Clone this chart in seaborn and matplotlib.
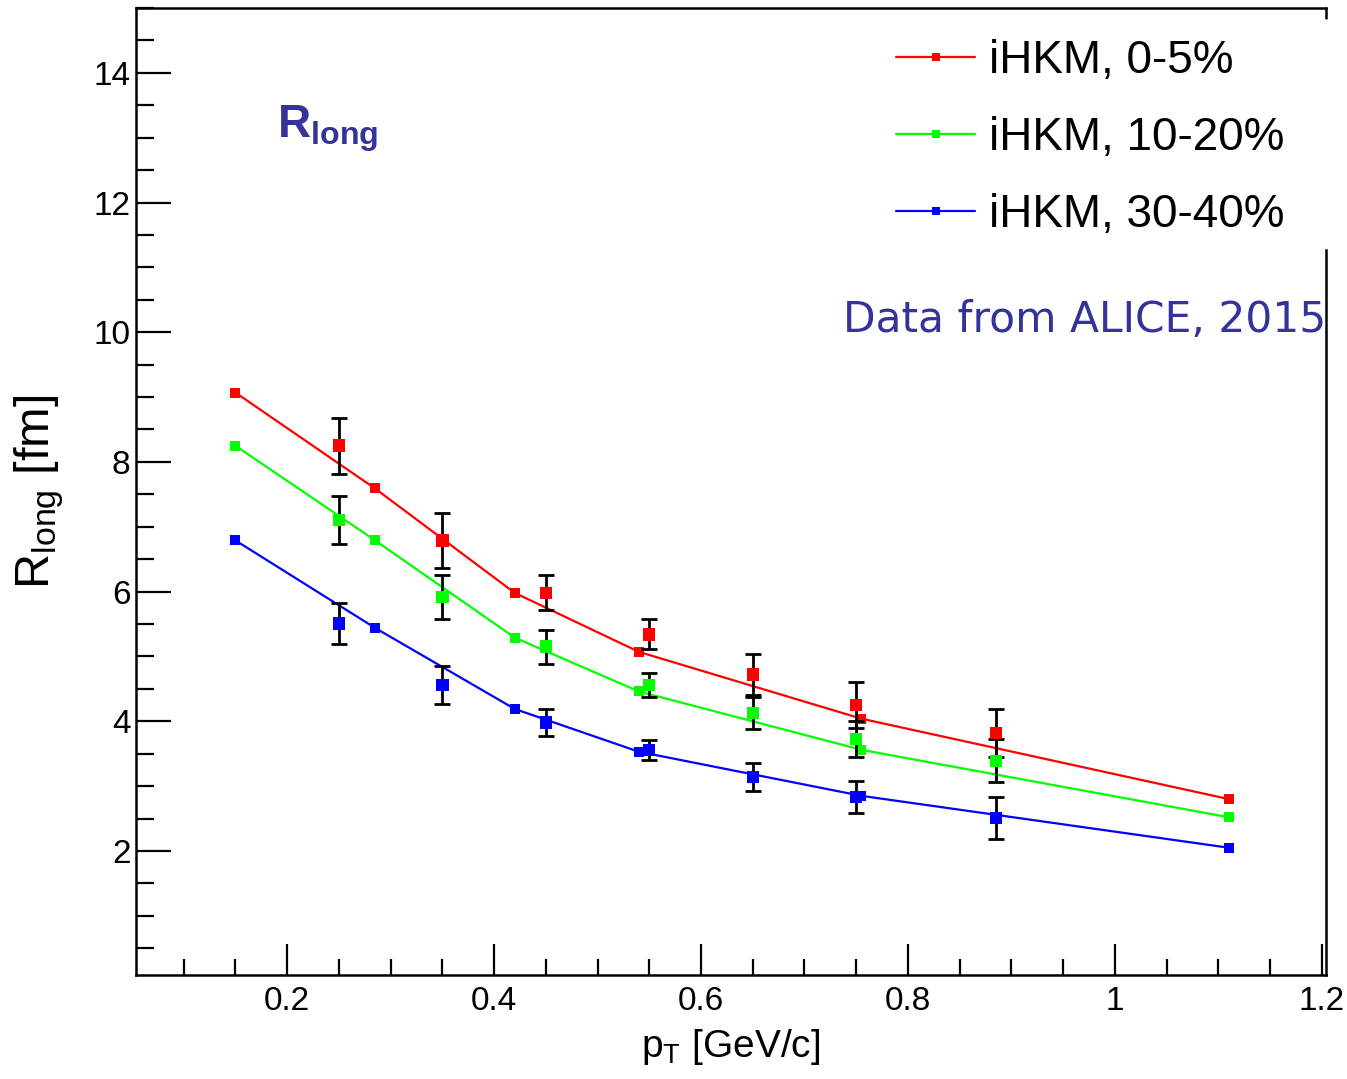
import numpy as np
import pandas as pd
import matplotlib
matplotlib.use("Agg")
import matplotlib.pyplot as plt
import matplotlib.transforms as mtransforms
from matplotlib.lines import Line2D
from matplotlib.ticker import MultipleLocator, FixedLocator, FixedFormatter
import seaborn as sns

# ---------------- data ----------------
centralities = ["iHKM, 0-5%", "iHKM, 10-20%", "iHKM, 30-40%"]
line_colors = ["#ff0000", "#00ff00", "#0000ff"]

# iHKM model curves
model_pt = [0.15, 0.285, 0.42, 0.54, 0.755, 1.11]
model_r_0_5 = [9.07, 7.59, 5.98, 5.07, 4.04, 2.80]
model_r_10_20 = [8.25, 6.79, 5.29, 4.46, 3.56, 2.52]
model_r_30_40 = [6.79, 5.44, 4.19, 3.53, 2.85, 2.05]

# ALICE data
data_pt = [0.25, 0.35, 0.45, 0.55, 0.65, 0.75, 0.885]
data_r_0_5 = [8.25, 6.79, 5.98, 5.34, 4.72, 4.25, 3.82]
err_r_0_5 = [0.43, 0.42, 0.27, 0.23, 0.32, 0.36, 0.37]
data_r_10_20 = [7.10, 5.92, 5.15, 4.56, 4.13, 3.73, 3.39]
err_r_10_20 = [0.37, 0.34, 0.26, 0.19, 0.25, 0.28, 0.33]
data_r_30_40 = [5.51, 4.56, 3.98, 3.56, 3.14, 2.83, 2.51]
err_r_30_40 = [0.32, 0.29, 0.21, 0.15, 0.21, 0.25, 0.32]

xtick_values = [0.2, 0.4, 0.6, 0.8, 1.0, 1.2]
xtick_labels = ["0.2", "0.4", "0.6", "0.8", "1", "1.2"]
ytick_values = [2, 4, 6, 8, 10, 12, 14]
ytick_labels = ["2", "4", "6", "8", "10", "12", "14"]

model_df = pd.DataFrame({
    "pT": model_pt * 3,
    "R": model_r_0_5 + model_r_10_20 + model_r_30_40,
    "cent": [c for c in centralities for _ in model_pt],
})
data_df = pd.DataFrame({
    "pT": data_pt * 3,
    "R": data_r_0_5 + data_r_10_20 + data_r_30_40,
    "err": err_r_0_5 + err_r_10_20 + err_r_30_40,
    "cent": [c for c in centralities for _ in data_pt],
})

# ---------------- style ----------------
sns.set_theme(style="white")
plt.rcParams["font.family"] = ["Liberation Sans", "DejaVu Sans"]
plt.rcParams["mathtext.fontset"] = "custom"
plt.rcParams["mathtext.rm"] = "Liberation Sans"
plt.rcParams["mathtext.it"] = "Liberation Sans"
plt.rcParams["mathtext.bf"] = "Liberation Sans:bold"
plt.rcParams["text.color"] = "black"
plt.rcParams["axes.labelcolor"] = "black"
plt.rcParams["xtick.color"] = "black"
plt.rcParams["ytick.color"] = "black"

W, H = 1347, 1079
fig = plt.figure(figsize=(W / 100, H / 100), dpi=100)
ax = fig.add_axes([136 / W, 1 - 975 / H, (1326 - 136) / W, (975 - 8) / H])

XMIN, XMAX = 0.054, 1.204
YMIN, YMAX = 0.087, 15.0

palette = dict(zip(centralities, line_colors))

sns.lineplot(data=model_df, x="pT", y="R", hue="cent", palette=palette,
             marker="s", markersize=7, markeredgewidth=0, linewidth=1.6,
             sort=False, legend=False, ax=ax, zorder=2)

ax.errorbar(data_df["pT"], data_df["R"], yerr=data_df["err"], fmt="none",
            ecolor="black", elinewidth=2.0, capsize=5.5, capthick=2.0, zorder=3)

sns.scatterplot(data=data_df, x="pT", y="R", hue="cent", palette=palette,
                marker="s", s=80, linewidth=0, legend=False, ax=ax, zorder=4)

ax.set_xlim(XMIN, XMAX)
ax.set_ylim(YMIN, YMAX)

# ticks
ax.xaxis.set_major_locator(FixedLocator(xtick_values))
ax.xaxis.set_major_formatter(FixedFormatter(xtick_labels))
ax.xaxis.set_minor_locator(MultipleLocator(0.05))
ax.yaxis.set_major_locator(FixedLocator(ytick_values))
ax.yaxis.set_major_formatter(FixedFormatter(ytick_labels))
ax.yaxis.set_minor_locator(MultipleLocator(0.5))

ax.tick_params(axis="x", which="major", direction="in", length=22, width=1.6,
               labelsize=24, pad=8, bottom=True, top=False, color="black",
               labelcolor="black")
ax.tick_params(axis="x", which="minor", direction="in", length=11.5, width=1.6,
               bottom=True, top=False, color="black")
ax.tick_params(axis="y", which="major", direction="in", length=25, width=1.6,
               labelsize=24, pad=4, left=True, right=False, color="black",
               labelcolor="black")
ax.tick_params(axis="y", which="minor", direction="in", length=13, width=1.6,
               left=True, right=False, color="black")

for s in ax.spines.values():
    s.set_color("black")
    s.set_linewidth(1.8)
ax.spines["right"].set_bounds(YMIN, 11.27)
ax.plot([XMAX, XMAX], [YMAX, YMAX - 0.16], color="black", lw=1.8,
        clip_on=False, zorder=5)

ax.set_xlabel(r"p$_{\rm T}$ [GeV/c]", fontsize=28, labelpad=7, color="black")
ax.set_ylabel(r"R$_{\rm long}$ [fm]", fontsize=35, labelpad=20, color="black")

# annotations
ax.text(0.19, 13.0, r"$\mathbf{R}_{\mathbf{long}}$", fontsize=33,
        color="#333399", ha="left", va="baseline")
trans = mtransforms.blended_transform_factory(ax.transAxes, ax.transData)
ax.text(1.0, 10.0, "Data from ALICE, 2015", transform=trans, fontsize=30.5,
        family="DejaVu Sans", color="#333399", ha="right", va="baseline")

# legend
handles = [Line2D([0], [0], color=c, lw=1.6, marker="s", markersize=6,
                  markeredgewidth=0) for c in line_colors]
leg = fig.legend(handles, centralities, loc="upper left",
                 bbox_to_anchor=(896 / W, 1 - 39 / H), frameon=False,
                 fontsize=33, handlelength=1.73, handletextpad=0.3,
                 labelspacing=0.72, borderpad=0, borderaxespad=0, numpoints=1)
for t in leg.get_texts():
    t.set_color("black")

fig.savefig("out.png", dpi=100, facecolor="white")
